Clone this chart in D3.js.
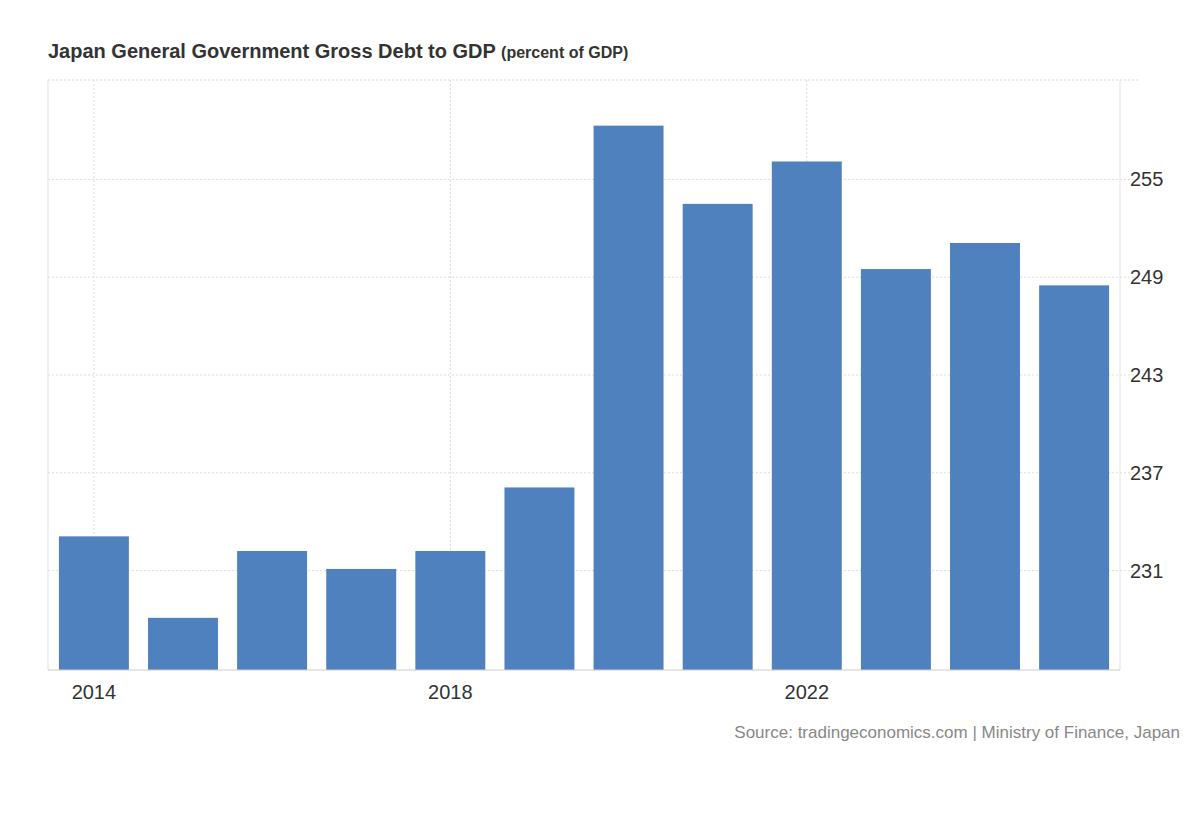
<!DOCTYPE html>
<html>
<head>
<script src="https://d3js.org/d3.v7.min.js"></script>
<style>
  body { margin: 0; background: #fff; font-family: Arial, 'Liberation Sans', sans-serif; }
</style>
</head>
<body>
<script>
const years = ['2014','2015','2016','2017','2018','2019','2020','2021','2022','2023','2024','2025'];
const debt = [233.1, 228.1, 232.2, 231.1, 232.2, 236.1, 258.3, 253.5, 256.1, 249.5, 251.1, 248.5];
const yTicks = [231, 237, 243, 249, 255];
const xLabels = ['2014', '2018', '2022'];

const W = 1200, H = 820;
const plotL = 48, plotR = 1120, plotT = 80, plotB = 670;

const svg = d3.select('body').append('svg').attr('width', W).attr('height', H);

const x = d3.scaleBand().domain(years).range([plotL + 2, plotR - 2]).paddingInner(0.215).paddingOuter(0.1);
const y = d3.scaleLinear().domain([224.9, 261.1]).range([plotB, plotT]);

// horizontal grid
svg.append('g').selectAll('line').data([...yTicks, 261.1]).join('line')
  .attr('x1', plotL).attr('x2', 1140)
  .attr('y1', d => y(d)).attr('y2', d => y(d))
  .attr('stroke', '#ddd').attr('stroke-dasharray', '2,2');

// vertical grid at labelled years
svg.append('g').selectAll('line').data(xLabels).join('line')
  .attr('x1', d => x(d) + x.bandwidth() / 2).attr('x2', d => x(d) + x.bandwidth() / 2)
  .attr('y1', plotT).attr('y2', plotB)
  .attr('stroke', '#ddd').attr('stroke-dasharray', '2,2');

// frame sides
svg.append('line').attr('x1', plotL).attr('x2', plotL).attr('y1', plotT).attr('y2', plotB).attr('stroke', '#e3e3e3');
svg.append('line').attr('x1', plotR).attr('x2', plotR).attr('y1', plotT).attr('y2', plotB).attr('stroke', '#e3e3e3');

// bars
svg.append('g').selectAll('rect').data(debt).join('rect')
  .attr('x', (d, i) => x(years[i]))
  .attr('width', x.bandwidth())
  .attr('y', d => y(d))
  .attr('height', d => plotB - y(d))
  .attr('fill', '#4e81bd');

// baseline
svg.append('line').attr('x1', plotL).attr('x2', plotR).attr('y1', plotB).attr('y2', plotB).attr('stroke', '#ccc');

// y labels
svg.append('g').selectAll('text').data(yTicks).join('text')
  .attr('x', 1130).attr('y', d => y(d) + 7)
  .attr('font-size', 20).attr('fill', '#333').text(d => d);

// x labels
svg.append('g').selectAll('text').data(xLabels).join('text')
  .attr('x', d => x(d) + x.bandwidth() / 2).attr('y', 699)
  .attr('text-anchor', 'middle').attr('font-size', 20).attr('fill', '#333').text(d => d);

// title
const t = svg.append('text').attr('x', 48).attr('y', 58).attr('fill', '#333').attr('font-weight', 'bold');
t.append('tspan').attr('font-size', 20).text('Japan General Government Gross Debt to GDP ');
t.append('tspan').attr('font-size', 16).text('(percent of GDP)');

svg.append('text').attr('x', 1180).attr('y', 738).attr('text-anchor', 'end')
  .attr('font-size', 17).attr('fill', '#888')
  .text('Source: tradingeconomics.com | Ministry of Finance, Japan');
</script>
</body>
</html>
